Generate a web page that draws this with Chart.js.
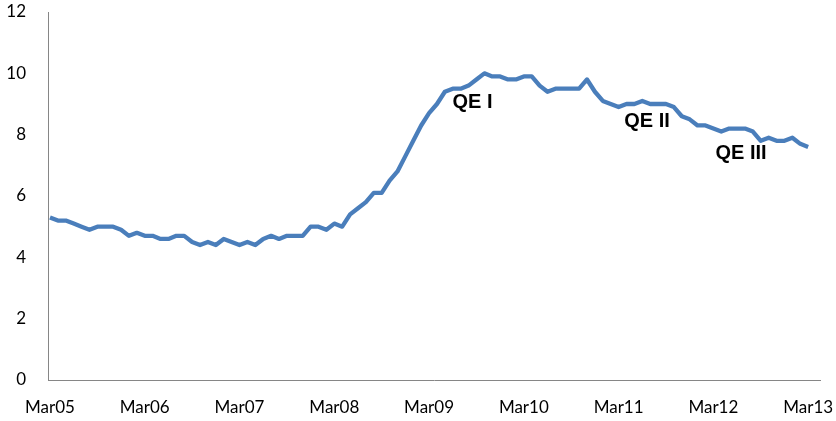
<!DOCTYPE html>
<html>
<head>
<meta charset="utf-8">
<script src="https://cdn.jsdelivr.net/npm/chart.js@4.4.0/dist/chart.umd.min.js"></script>
<style>
    html, body { margin: 0; padding: 0; background: #fff; }
    #wrap { width: 836px; height: 421px; position: relative; }
</style>
</head>
<body>
<div id="wrap"><canvas id="rateChart"></canvas></div>
<script>
// Monthly rate, Mar05 .. Mar13 (one value per month)
const rate2005 = [5.3, 5.2, 5.2, 5.1, 5.0, 4.9, 5.0, 5.0, 5.0, 4.9];
const rate2006 = [4.7, 4.8, 4.7, 4.7, 4.6, 4.6, 4.7, 4.7, 4.5, 4.4, 4.5, 4.4];
const rate2007 = [4.6, 4.5, 4.4, 4.5, 4.4, 4.6, 4.7, 4.6, 4.7, 4.7, 4.7, 5.0];
const rate2008 = [5.0, 4.9, 5.1, 5.0, 5.4, 5.6, 5.8, 6.1, 6.1, 6.5, 6.8, 7.3];
const rate2009 = [7.8, 8.3, 8.7, 9.0, 9.4, 9.5, 9.5, 9.6, 9.8, 10.0, 9.9, 9.9];
const rate2010 = [9.8, 9.8, 9.9, 9.9, 9.6, 9.4, 9.5, 9.5, 9.5, 9.5, 9.8, 9.4];
const rate2011 = [9.1, 9.0, 8.9, 9.0, 9.0, 9.1, 9.0, 9.0, 9.0, 8.9, 8.6, 8.5];
const rate2012 = [8.3, 8.3, 8.2, 8.1, 8.2, 8.2, 8.2, 8.1, 7.8, 7.9, 7.8, 7.8];
const rate2013 = [7.9, 7.7, 7.6];

const rates = [].concat(rate2005, rate2006, rate2007, rate2008, rate2009,
                        rate2010, rate2011, rate2012, rate2013);

// Axis labels, one every 12 months starting at month 0 (Mar05)
const tickLabels = ['Mar05', 'Mar06', 'Mar07', 'Mar08', 'Mar09', 'Mar10', 'Mar11', 'Mar12', 'Mar13'];
const yTicks = [0, 2, 4, 6, 8, 10, 12];

// Annotations: text, month index, value
const noteText = ['QE I', 'QE II', 'QE III'];
const noteMonth = [53.5, 75.6, 87.5];
const noteValue = [9.05, 8.42, 7.4];

const labelFont = { family: 'Lato, "Open Sans", sans-serif', size: 17 };

const notesPlugin = {
    id: 'notes',
    afterDatasetsDraw(chart) {
        const ctx = chart.ctx;
        const xs = chart.scales.x;
        const ys = chart.scales.y;
        ctx.save();
        ctx.font = 'bold 20px "Liberation Sans", Arial, sans-serif';
        ctx.fillStyle = '#000';
        ctx.textAlign = 'center';
        ctx.textBaseline = 'middle';
        noteText.forEach((t, i) => {
            ctx.fillText(t, xs.getPixelForValue(noteMonth[i]), ys.getPixelForValue(noteValue[i]));
        });
        ctx.restore();
    }
};

const ctx = document.getElementById('rateChart').getContext('2d');
new Chart(ctx, {
    type: 'line',
    data: {
        datasets: [{
            data: rates.map((v, i) => ({ x: i, y: v })),
            borderColor: '#4a7ebb',
            borderWidth: 4.3,
            pointRadius: 0,
            tension: 0,
            borderJoinStyle: 'round',
            borderCapStyle: 'butt',
            fill: false
        }]
    },
    options: {
        responsive: true,
        maintainAspectRatio: false,
        animation: false,
        devicePixelRatio: 1,
        layout: { padding: { top: 12, right: 16, left: 0, bottom: 0 } },
        plugins: {
            legend: { display: false },
            tooltip: { enabled: false }
        },
        scales: {
            x: {
                type: 'linear',
                min: -0.25,
                max: 97.5,
                afterFit: s => { s.height = 41; s.paddingLeft = 0; s.paddingRight = 0; },
                afterBuildTicks: s => { s.ticks = tickLabels.map((_, i) => ({ value: i * 12 })); },
                grid: { display: false, drawTicks: false },
                border: { display: true, color: '#868686', width: 1 },
                ticks: {
                    color: '#000',
                    font: labelFont,
                    padding: 17,
                    maxRotation: 0,
                    autoSkip: false,
                    callback: v => tickLabels[Math.round(v / 12)]
                }
            },
            y: {
                min: 0,
                max: 12,
                afterFit: s => { s.width = 48; s.paddingTop = 0; s.paddingBottom = 0; },
                afterBuildTicks: s => { s.ticks = yTicks.map(v => ({ value: v })); },
                grid: { display: false, drawTicks: false },
                border: { display: true, color: '#868686', width: 1 },
                ticks: {
                    color: '#000',
                    font: labelFont,
                    padding: 22
                }
            }
        }
    },
    plugins: [notesPlugin]
});
</script>
</body>
</html>
